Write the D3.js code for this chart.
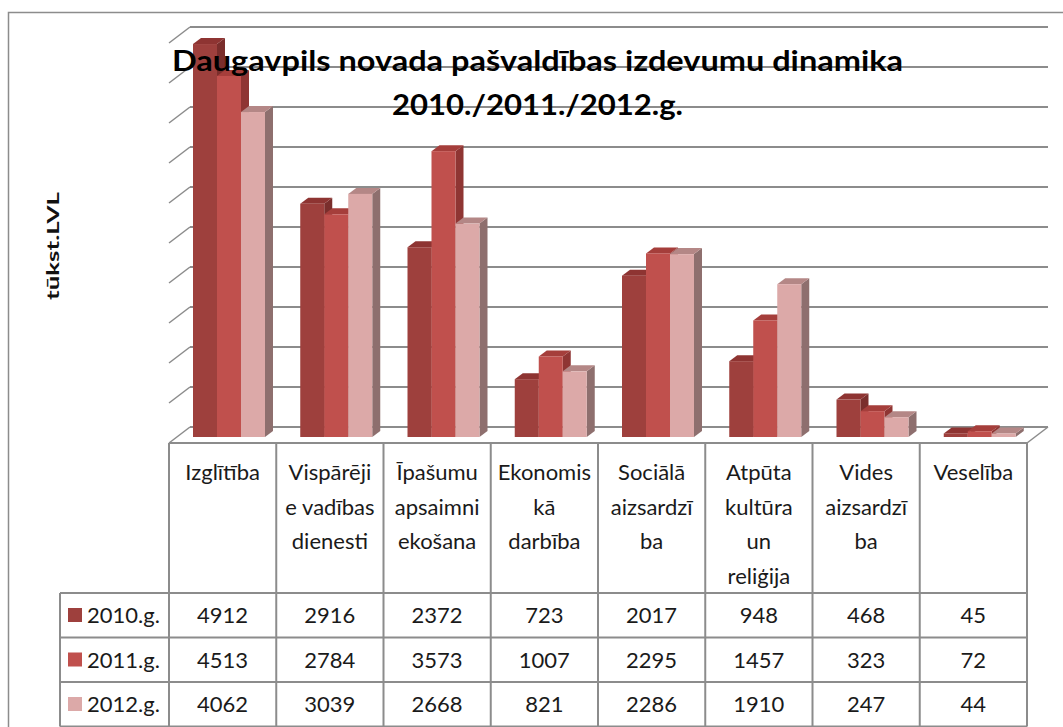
<!DOCTYPE html>
<html>
<head>
<meta charset="utf-8">
<script src="https://cdn.jsdelivr.net/npm/d3@7"></script>
<style>
  html, body { margin: 0; padding: 0; background: #fff; }
  svg { display: block; font-family: Lato, "Open Sans", sans-serif; }
</style>
</head>
<body>
<div id="chart"></div>
<script>
// categories, each split into the lines shown in the table header
const categories = ['Izglītība', 'Vispārēji e vadības dienesti', 'Īpašumu apsaimniekošana',
  'Ekonomiskā darbība', 'Sociālā aizsardzība', 'Atpūta kultūra un reliģija',
  'Vides aizsardzība', 'Veselība'];
const categoryLines = [
  ['Izglītība'],
  ['Vispārēji', 'e vadības', 'dienesti'],
  ['Īpašumu', 'apsaimni', 'ekošana'],
  ['Ekonomis', 'kā', 'darbība'],
  ['Sociālā', 'aizsardzī', 'ba'],
  ['Atpūta', 'kultūra', 'un', 'reliģija'],
  ['Vides', 'aizsardzī', 'ba'],
  ['Veselība']
];
const seriesNames = ['2010.g.', '2011.g.', '2012.g.'];
const values2010 = [4912, 2916, 2372, 723, 2017, 948, 468, 45];
const values2011 = [4513, 2784, 3573, 1007, 2295, 1457, 323, 72];
const values2012 = [4062, 3039, 2668, 821, 2286, 1910, 247, 44];
const yTicks = [0, 500, 1000, 1500, 2000, 2500, 3000, 3500, 4000, 4500, 5000];

const titleLines = ['Daugavpils novada pašvaldības izdevumu dinamika', '2010./2011./2012.g.'];
const yTitle = 'tūkst.LVL';

const seriesValues = [values2010, values2011, values2012];
const faceColors = [
  { front: '#9e403d', side: '#7a2e2c', top: '#8e3432' },
  { front: '#c0504d', side: '#8f3533', top: '#a53e3b' },
  { front: '#dca9a8', side: '#8e6f6e', top: '#b48786' }
];
const lineColor = '#8c8c8c';

const width = 1063;
const height = 727;

// plot geometry (floor front edge, 3d offsets)
const floorFront = 443;
const wallDepth = { dx: 21, dy: -16 };   // floor front -> back wall
const barPlane = { dx: 8, dy: -6 };      // floor front -> bar front faces
const barDepth = { dx: 8, dy: -6 };      // bar front -> bar back

const svg = d3.select('#chart')
  .append('svg')
  .attr('width', width)
  .attr('height', height);

// outer chart border
svg.append('path')
  .attr('d', `M8.5,${height} V12.5 H${width}`)
  .attr('fill', 'none')
  .attr('stroke', lineColor)
  .attr('stroke-width', 1.5);

const x = d3.scaleBand()
  .domain(categories)
  .range([169, 1027]);

const xInner = d3.scaleBand()
  .domain(seriesNames)
  .range([16, 88]);

// y for the bar plane
const y = d3.scaleLinear()
  .domain([0, 5000])
  .range([floorFront + barPlane.dy, floorFront + barPlane.dy - 400]);

const yBack = v => y(v) - barPlane.dy + wallDepth.dy;

// gridlines on back wall + diagonals on side wall
const grid = svg.append('g').attr('class', 'grid');

grid.selectAll('line.back')
  .data(yTicks)
  .enter()
  .append('line')
  .attr('class', 'back')
  .attr('x1', x.range()[0] + wallDepth.dx)
  .attr('x2', x.range()[1] + wallDepth.dx)
  .attr('y1', d => yBack(d))
  .attr('y2', d => yBack(d))
  .attr('stroke', lineColor)
  .attr('stroke-width', 2);

grid.selectAll('line.side')
  .data(yTicks)
  .enter()
  .append('line')
  .attr('class', 'side')
  .attr('x1', x.range()[0])
  .attr('x2', x.range()[0] + wallDepth.dx)
  .attr('y1', d => yBack(d) - wallDepth.dy)
  .attr('y2', d => yBack(d))
  .attr('stroke', lineColor)
  .attr('stroke-width', 1.5);

// right floor edge
grid.append('line')
  .attr('x1', x.range()[1])
  .attr('x2', x.range()[1] + wallDepth.dx)
  .attr('y1', floorFront)
  .attr('y2', floorFront + wallDepth.dy)
  .attr('stroke', lineColor)
  .attr('stroke-width', 1.5);

// 3d bars, drawn left to right
const bars = svg.append('g').attr('class', 'bars');
const bw = xInner.bandwidth();

categories.forEach((cat, ci) => {
  seriesNames.forEach((s, si) => {
    const v = seriesValues[si][ci];
    const x0 = x(cat) + xInner(s) + barPlane.dx;
    const yt = y(v);
    const yb = y(0);
    const c = faceColors[si];
    const g = bars.append('g');

    g.append('polygon')
      .attr('points', [
        [x0 + bw, yt], [x0 + bw + barDepth.dx, yt + barDepth.dy],
        [x0 + bw + barDepth.dx, yb + barDepth.dy], [x0 + bw, yb]
      ].join(' '))
      .attr('fill', c.side);

    g.append('polygon')
      .attr('points', [
        [x0, yt], [x0 + bw, yt],
        [x0 + bw + barDepth.dx, yt + barDepth.dy], [x0 + barDepth.dx, yt + barDepth.dy]
      ].join(' '))
      .attr('fill', c.top);

    g.append('rect')
      .attr('x', x0)
      .attr('y', yt)
      .attr('width', bw)
      .attr('height', yb - yt)
      .attr('fill', c.front);
  });
});

// title
svg.append('text')
  .attr('x', 537.5)
  .attr('y', 71)
  .attr('text-anchor', 'middle')
  .attr('font-size', 29)
  .attr('font-weight', 'bold')
  .attr('textLength', 731)
  .attr('lengthAdjust', 'spacingAndGlyphs')
  .text(titleLines[0]);

svg.append('text')
  .attr('x', 537.5)
  .attr('y', 115)
  .attr('text-anchor', 'middle')
  .attr('font-size', 29)
  .attr('font-weight', 'bold')
  .attr('textLength', 291)
  .attr('lengthAdjust', 'spacingAndGlyphs')
  .text(titleLines[1]);

// axis title
svg.append('text')
  .attr('transform', 'translate(59,246) rotate(-90)')
  .attr('text-anchor', 'middle')
  .attr('font-size', 17)
  .attr('font-weight', 'bold')
  .attr('textLength', 108)
  .attr('lengthAdjust', 'spacingAndGlyphs')
  .attr('fill', '#111')
  .text(yTitle);

// data table
const table = svg.append('g').attr('class', 'table');
const rowTop = 593;
const rowH = 44.5;
const legendLeft = 60;
const tableBottom = rowTop + rowH * 3;
const fontSize = 22;

// horizontal lines
table.append('line')
  .attr('x1', x.range()[0]).attr('x2', x.range()[1])
  .attr('y1', floorFront).attr('y2', floorFront)
  .attr('stroke', lineColor).attr('stroke-width', 2);

d3.range(4).forEach(i => {
  table.append('line')
    .attr('x1', legendLeft).attr('x2', x.range()[1])
    .attr('y1', rowTop + rowH * i).attr('y2', rowTop + rowH * i)
    .attr('stroke', lineColor).attr('stroke-width', 2);
});

// vertical lines
const bounds = categories.map(c => x(c)).concat([x.range()[1]]);
table.selectAll('line.v')
  .data(bounds)
  .enter()
  .append('line')
  .attr('class', 'v')
  .attr('x1', d => d).attr('x2', d => d)
  .attr('y1', floorFront).attr('y2', tableBottom)
  .attr('stroke', lineColor).attr('stroke-width', 2);

table.append('line')
  .attr('x1', legendLeft).attr('x2', legendLeft)
  .attr('y1', rowTop).attr('y2', tableBottom)
  .attr('stroke', lineColor).attr('stroke-width', 2);

// header labels
categories.forEach((cat, ci) => {
  const t = table.append('text')
    .attr('text-anchor', 'middle')
    .attr('font-size', fontSize)
    .attr('fill', '#1a1a1a');

  categoryLines[ci].forEach((line, li) => {
    t.append('tspan')
      .attr('x', x(cat) + x.bandwidth() / 2)
      .attr('y', 480 + li * 34.5)
      .text(line);
  });
});

// rows with legend keys and values
seriesNames.forEach((s, si) => {
  const top = rowTop + rowH * si;

  table.append('rect')
    .attr('x', 68)
    .attr('y', top + 15)
    .attr('width', 14)
    .attr('height', 14)
    .attr('fill', faceColors[si].front);

  table.append('text')
    .attr('x', 87)
    .attr('y', top + 30)
    .attr('font-size', fontSize)
    .attr('fill', '#1a1a1a')
    .text(s);

  table.selectAll(`text.v${si}`)
    .data(seriesValues[si])
    .enter()
    .append('text')
    .attr('class', `v${si}`)
    .attr('x', (d, i) => x(categories[i]) + x.bandwidth() / 2)
    .attr('y', top + 30)
    .attr('text-anchor', 'middle')
    .attr('font-size', fontSize)
    .attr('fill', '#1a1a1a')
    .text(d => d);
});
</script>
</body>
</html>
